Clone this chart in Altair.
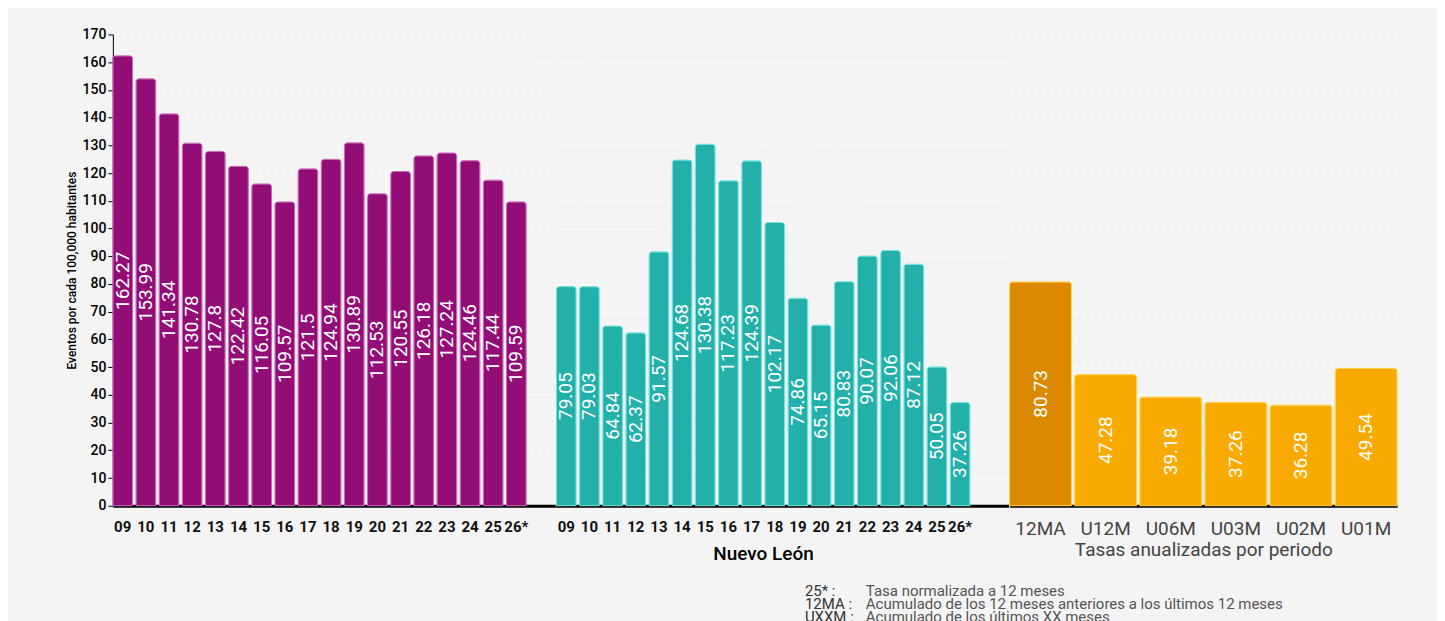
import altair as alt
import pandas as pd

# ---------------- data ----------------
years = ["09", "10", "11", "12", "13", "14", "15", "16", "17",
         "18", "19", "20", "21", "22", "23", "24", "25", "26*"]
nacional = [162.27, 153.99, 141.34, 130.78, 127.8, 122.42, 116.05, 109.57, 121.5,
            124.94, 130.89, 112.53, 120.55, 126.18, 127.24, 124.46, 117.44, 109.59]
nuevo_leon = [79.05, 79.03, 64.84, 62.37, 91.57, 124.68, 130.38, 117.23, 124.39,
              102.17, 74.86, 65.15, 80.83, 90.07, 92.06, 87.12, 50.05, 37.26]
periodos = ["12MA", "U12M", "U06M", "U03M", "U02M", "U01M"]
tasas = [80.73, 47.28, 39.18, 37.26, 36.28, 49.54]

note_keys = ["25* :", "12MA :", "UXXM :"]
note_texts = ["Tasa normalizada a 12 meses",
              "Acumulado de los 12 meses anteriores a los últimos 12 meses",
              "Acumulado de los últimos XX meses"]

y_ticks = list(range(0, 171, 10))
y_title = "Eventos por cada 100,000 habitantes"

# ---------------- style ----------------
FONT = "Roboto"
YMAX = 170
H = 472
BG = "#f4f4f4"


def frame(labels, values):
    return pd.DataFrame({"label": labels, "value": values,
                         "txt": [str(v) for v in values]})


def y_axis(show):
    if show:
        return alt.Axis(values=y_ticks, title=y_title, labelFont=FONT, labelFontSize=14,
                        labelFontWeight=500, labelColor="#000", titleFont=FONT,
                        titleFontSize=12, titleFontWeight=500, titleColor="#000",
                        titlePadding=4, domainColor="#000", tickColor="#000", tickSize=5,
                        labelPadding=2, grid=True, gridColor="#fbfbfb", gridDash=[5, 3])
    return alt.Axis(values=y_ticks, title=None, labels=False, ticks=False, domain=False,
                    grid=True, gridColor="#fbfbfb", gridDash=[5, 3])


def group(df, width, fill, stroke, band, xaxis, show_y):
    yax = y_axis(show_y)
    base = alt.Chart(df).encode(
        x=alt.X("label:N", sort=None, scale=alt.Scale(**band), axis=xaxis))
    bars = base.mark_bar(cornerRadiusTopLeft=3, cornerRadiusTopRight=3,
                         stroke=stroke, strokeWidth=1).encode(
        y=alt.Y("value:Q", scale=alt.Scale(domain=[0, YMAX], nice=False), axis=yax),
        color=fill)
    text = base.transform_calculate(mid="datum.value / 2").mark_text(
        angle=270, font=FONT, fontSize=19, color="white",
        align="center", baseline="middle").encode(
        y=alt.Y("mid:Q", scale=alt.Scale(domain=[0, YMAX], nice=False), axis=yax),
        text="txt:N")
    return alt.layer(bars, text).properties(width=width, height=H)


x_common = dict(labelAngle=0, labelFont=FONT, domainColor="#000", domainWidth=3,
                ticks=False, grid=False, labelPadding=14)

xa = alt.Axis(title=None, labelFontSize=15, labelFontWeight="bold", labelColor="#111",
              **x_common)
xb = alt.Axis(title="Nuevo León", labelFontSize=15, labelFontWeight="bold",
              labelColor="#111", titleFont=FONT, titleFontSize=19, titleFontWeight=500,
              titleColor="#000", titlePadding=10, titleX=208, **x_common)
xc = alt.Axis(title="Tasas anualizadas por periodo", labelFontSize=19,
              labelFontWeight="normal", labelColor="#444", titleFont=FONT,
              titleFontSize=19, titleFontWeight="normal", titleColor="#444",
              titlePadding=2, **x_common)

chart_a = group(frame(years, nacional), 443, alt.value("#930d76"), "#c964b3",
                dict(paddingInner=0.15, paddingOuter=0.627, align=0), xa, True)
chart_b = group(frame(years, nuevo_leon), 454, alt.value("#24b0aa"), "#6fe3db",
                dict(paddingInner=0.15, paddingOuter=0.86, align=0.03), xb, False)
chart_c = group(frame(periodos, tasas), 388,
                alt.condition(alt.datum.label == "12MA", alt.value("#db8a00"),
                              alt.value("#f8aa00")),
                "#ffd040", dict(paddingInner=0.05, paddingOuter=0), xc, False)

top = alt.hconcat(chart_a, chart_b, chart_c, spacing=0)

notes_df = pd.DataFrame({"i": list(range(len(note_keys))), "key": note_keys,
                         "text": note_texts})
nbase = alt.Chart(notes_df).encode(
    y=alt.Y("i:Q", scale=alt.Scale(domain=[0, 2], range=[0, 26]), axis=None))
keys = nbase.mark_text(align="left", baseline="alphabetic", font=FONT, fontSize=15,
                       color="#333").encode(x=alt.value(693), text="key:N")
descs = nbase.mark_text(align="left", baseline="alphabetic", font=FONT, fontSize=15,
                        color="#555").encode(x=alt.value(754), text="text:N")
notes = alt.layer(keys, descs).properties(width=1285, height=30)

chart = alt.vconcat(top, notes, spacing=20).properties(
    background=BG,
    padding={"left": 57, "top": 19, "right": 39, "bottom": 10},
).configure_view(strokeWidth=0)

chart.save("out.html", embed_options={"renderer": "svg", "actions": False})
